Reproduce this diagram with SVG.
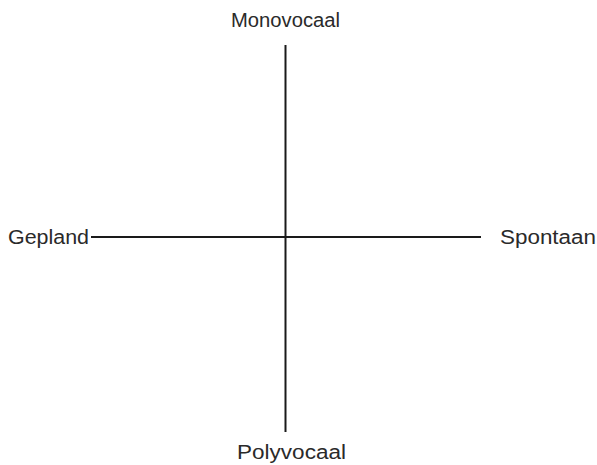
<svg xmlns="http://www.w3.org/2000/svg" width="597" height="465" viewBox="0 0 597 465">
<style>
.lbl{font-family:"Liberation Sans",Arial,sans-serif;font-size:20px;fill:#2a2a2a}
.ax{stroke:#1a1a1a;stroke-width:2;fill:none}
</style>
<rect width="597" height="465" fill="#fff"/>
<g id="connectors">
<line class="ax" x1="285.5" y1="45" x2="285.5" y2="432"/>
<line class="ax" x1="91" y1="237" x2="481" y2="237"/>
</g>
<g id="monovocaal"><text class="lbl" x="231" y="27" textLength="109" lengthAdjust="spacingAndGlyphs">Monovocaal</text></g>
<g id="gepland"><text class="lbl" x="8" y="244" textLength="81" lengthAdjust="spacingAndGlyphs">Gepland</text></g>
<g id="spontaan"><text class="lbl" x="500" y="244" textLength="96" lengthAdjust="spacingAndGlyphs">Spontaan</text></g>
<g id="polyvocaal"><text class="lbl" x="237" y="459" textLength="109" lengthAdjust="spacingAndGlyphs">Polyvocaal</text></g>
</svg>
